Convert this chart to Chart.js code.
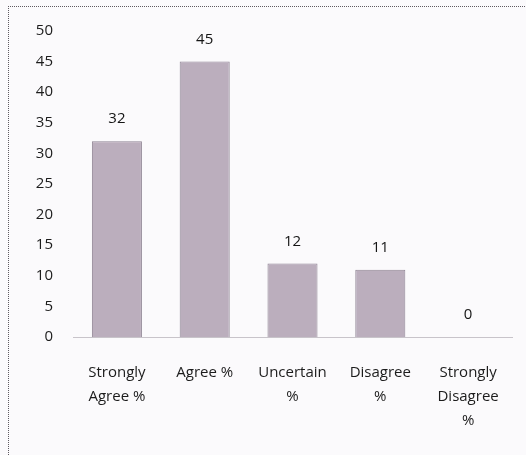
<!DOCTYPE html>
<html><head><meta charset="utf-8">
<script src="https://cdn.jsdelivr.net/npm/chart.js@4/dist/chart.umd.min.js"></script>
<style>
html,body{margin:0;padding:0;background:#fbfafc;}
#wrap{position:absolute;left:0;top:0;width:526px;height:455px;}
#frame{position:absolute;left:8px;top:6px;width:530px;height:460px;border-left:1.5px dotted #5e5a60;border-top:1.5px dotted #5e5a60;}
canvas{position:absolute;left:0;top:0;}
</style></head>
<body>
<div id="wrap"><div id="frame"></div><canvas id="c" width="526" height="455"></canvas></div>
<script>
const categories = [["Strongly","Agree %"],["Agree %"],["Uncertain","%"],["Disagree","%"],["Strongly","Disagree","%"]];
const values = [32, 45, 12, 11, 0];
const yTicks = [0,5,10,15,20,25,30,35,40,45,50];

const font = "'Open Sans', 'Noto Sans', sans-serif";

const labelPlugin = {
  id:'vlabels',
  afterDatasetsDraw(chart){
    const ctx = chart.ctx;
    const meta = chart.getDatasetMeta(0);
    ctx.save();
    ctx.fillStyle = '#151515';
    ctx.font = "15px " + font;
    ctx.textAlign = 'center';
    ctx.textBaseline = 'middle';
    meta.data.forEach((bar,i)=>{
      ctx.fillText(String(values[i]), bar.x, bar.y - 22);
    });
    ctx.restore();
  }
};

new Chart(document.getElementById('c'), {
  type:'bar',
  data:{labels:categories, datasets:[{data:values, backgroundColor:'#bbaebd', borderColor:'#8f8493', borderWidth:1, categoryPercentage:1, barPercentage:0.57}]},
  options:{
    responsive:false, animation:false,
    layout:{padding:{left:0,right:14,top:31,bottom:0}},
    plugins:{legend:{display:false}, tooltip:{enabled:false}},
    scales:{
      y:{min:0,max:50,
        afterBuildTicks(s){ s.ticks = yTicks.map(v=>({value:v})); },
        afterFit(s){ s.width = 73; },
        grid:{display:false, drawTicks:false},
        border:{display:false},
        ticks:{color:'#1c1c1c', font:{family:font,size:15}, padding:20}
      },
      x:{
        afterFit(s){ s.height = 118; },
        grid:{display:false, drawTicks:false},
        border:{display:true, color:'#c8c4ca', dash:[2,2], width:1},
        ticks:{color:'#1c1c1c', font:{family:font,size:15, lineHeight:1.6}, padding:24, maxRotation:0, autoSkip:false}
      }
    }
  },
  plugins:[labelPlugin]
});
</script>
</body></html>
